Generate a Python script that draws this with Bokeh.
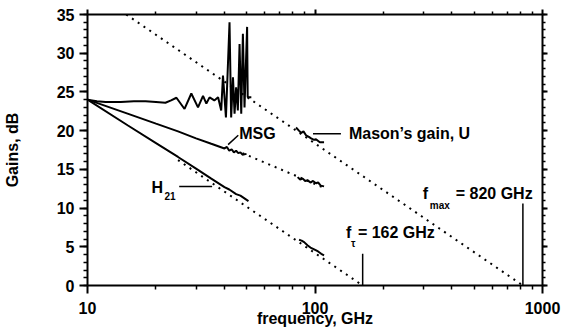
from bokeh.plotting import figure
from bokeh.models import Range1d, LinearAxis, LogAxis, FixedTicker, SingleIntervalTicker
from bokeh.core.properties import value
from bokeh.embed import file_html
from bokeh.resources import INLINE

# ---------------- data ----------------
# Mason's gain U, measured (low-frequency band)
u1_f = [10, 11, 12, 14, 16, 18, 20, 22, 23.3, 24.6, 26.7, 28.6, 30.6, 32.2, 33.3, 34.4,
        36.1, 37.5, 38.7, 39.4, 40.6, 42.1, 42.8, 43.6, 44.3, 45.0, 45.8, 46.6, 47.4,
        48.2, 49.0, 50.3, 50.6, 52.5]
u1_db = [24.0, 23.8, 23.7, 23.7, 23.8, 23.8, 23.7, 23.6, 23.9, 24.25, 22.8, 24.8, 23.0, 24.5,
         23.5, 24.3, 23.9, 24.3, 22.6, 27.1, 21.7, 34.0, 21.7, 26.9, 22.2, 25.6, 22.6,
         31.2, 22.2, 32.5, 23.0, 33.4, 24.3, 24.3]
# Mason's gain U, measured (high-frequency band)
u2_f = [82.5, 85, 87, 89, 91.3, 94, 96.1, 99, 101, 105, 109.6]
u2_db = [20.4, 20.0, 19.7, 19.9, 19.4, 19.2, 19.0, 18.8, 18.9, 18.5, 18.5]
# MSG measured
msg1_f = [10, 15, 20, 25, 30, 35, 40, 41, 42, 43, 44, 45, 46, 47, 48, 50]
msg1_db = [24.0, 22.2, 20.9, 19.9, 19.0, 18.3, 17.7, 17.9, 17.4, 17.6, 17.2, 17.4, 17.1,
           17.2, 16.9, 17.0]
msg2_f = [83.9, 86, 88.4, 90.5, 92.9, 95.5, 98, 101, 103.2, 106, 109.6]
msg2_db = [14.0, 13.7, 13.8, 13.5, 13.6, 13.3, 13.5, 13.2, 13.3, 12.9, 12.8]
# H21 measured
h21a_f = [10, 15, 20, 25, 30, 35, 40, 42, 45, 47, 51]
h21a_db = [24.0, 20.7, 18.4, 16.6, 15.1, 13.8, 12.7, 12.4, 11.8, 11.6, 10.9]
h21b_f = [85.1, 87.3, 89.6, 92.9, 95.5, 98.1, 103.2, 106.5, 109.6]
h21b_db = [5.9, 5.8, 5.6, 5.17, 4.9, 4.74, 4.4, 4.1, 3.9]
# extrapolations (dotted)
u_fit_f = [14.8, 820]
u_fit_db = [35.0, 0.0]
h21_fit_f = [25, 162]
h21_fit_db = [16.2, 0.0]
msg_fit_f = [48, 110]
msg_fit_db = [17.1, 12.6]
# marker frequencies
ft = 162
fmax = 820
ft_mark_db = [0, 4.1]
fmax_mark_db = [0, 10.6]
# ticks
x_major = [10, 100, 1000]
x_minor = [20, 30, 40, 50, 60, 70, 80, 90, 200, 300, 400, 500, 600, 700, 800, 900]
x_labels = {10: "10", 100: "100", 1000: "1000"}

FONT = value("Liberation Sans")

p = figure(width=561, height=333, x_axis_type="log",
           x_range=Range1d(10, 1000), y_range=Range1d(0, 35),
           output_backend="svg", toolbar_location=None,
           min_border_left=86, min_border_right=19, min_border_top=14, min_border_bottom=48)
p.outline_line_color = None
p.xgrid.visible = False
p.ygrid.visible = False
p.background_fill_color = "white"

xt = FixedTicker(ticks=x_major, minor_ticks=x_minor)
yt = SingleIntervalTicker(interval=5, num_minor_ticks=5)

def style(ax, labels=True):
    ax.axis_line_width = 2
    ax.axis_line_color = "black"
    ax.major_tick_line_width = 2
    ax.minor_tick_line_width = 1.5
    ax.major_tick_in = 0
    ax.minor_tick_in = 0
    ax.major_tick_out = 8
    ax.minor_tick_out = 4
    if labels:
        ax.major_label_text_font = "Liberation Sans"
        ax.major_label_text_font_style = "bold"
        ax.major_label_text_font_size = "16px"
        ax.major_label_text_color = "black"
        ax.axis_label_text_font = "Liberation Sans"
        ax.axis_label_text_font_style = "bold"
        ax.axis_label_text_font_size = "16px"
        ax.axis_label_text_color = "black"
    else:
        ax.major_label_text_font_size = "1px"
        ax.major_label_text_color = None
        ax.major_label_standoff = 0
        ax.major_tick_out = 5
        ax.minor_tick_out = 3

xa = p.xaxis[0]
xa.ticker = xt
xa.major_label_overrides = x_labels
xa.axis_label = "frequency, GHz"
style(xa)
xa.major_label_standoff = 8
xa.axis_label_standoff = -7

ya = p.yaxis[0]
ya.ticker = yt
ya.axis_label = "Gains, dB"
style(ya)
ya.major_label_standoff = 5
ya.axis_label_standoff = 33

top = LogAxis(ticker=FixedTicker(ticks=x_major, minor_ticks=x_minor))
style(top, labels=False)
p.add_layout(top, "above")
right = LinearAxis(ticker=SingleIntervalTicker(interval=5, num_minor_ticks=5))
style(right, labels=False)
p.add_layout(right, "right")

# dotted extrapolations
for fx, fy in [(u_fit_f, u_fit_db), (h21_fit_f, h21_fit_db), (msg_fit_f, msg_fit_db)]:
    p.line(fx, fy, line_color="black", line_width=2, line_dash="2 5")

# measured curves
for fx, fy in [(u1_f, u1_db), (u2_f, u2_db), (msg1_f, msg1_db), (msg2_f, msg2_db),
               (h21a_f, h21a_db), (h21b_f, h21b_db)]:
    p.line(fx, fy, line_color="black", line_width=2)

# marker lines
p.line([ft, ft], ft_mark_db, line_color="black", line_width=1.5)
p.line([fmax, fmax], fmax_mark_db, line_color="black", line_width=1.5)

# leader lines
p.line([41.5, 46.0], [18.2, 19.4], line_color="black", line_width=1.5)
p.line([98, 130], [19.6, 19.6], line_color="black", line_width=1.5)
p.line([25.3, 35.3], [12.8, 12.8], line_color="black", line_width=1.5)

def txt(x, y, s, size="16px"):
    p.text(x=[x], y=[y], text=[s], text_font=FONT, text_font_style="bold",
           text_font_size=size, text_align="left", text_baseline="middle",
           text_color="black")

txt(46.4, 19.6, "MSG")
txt(141, 19.6, "Mason\u2019s gain, U")
txt(19.1, 12.7, "H")
txt(21.8, 11.5, "21", "10px")
txt(136.8, 6.85, "f")
txt(144.1, 5.4, "\u03c4", "10px")
txt(154.4, 6.85, "= 162 GHz")
txt(297.6, 11.9, "f")
txt(319.5, 10.3, "max", "10px")
txt(415.4, 11.9, "= 820 GHz")

open("out.html", "w").write(file_html(p, INLINE))
